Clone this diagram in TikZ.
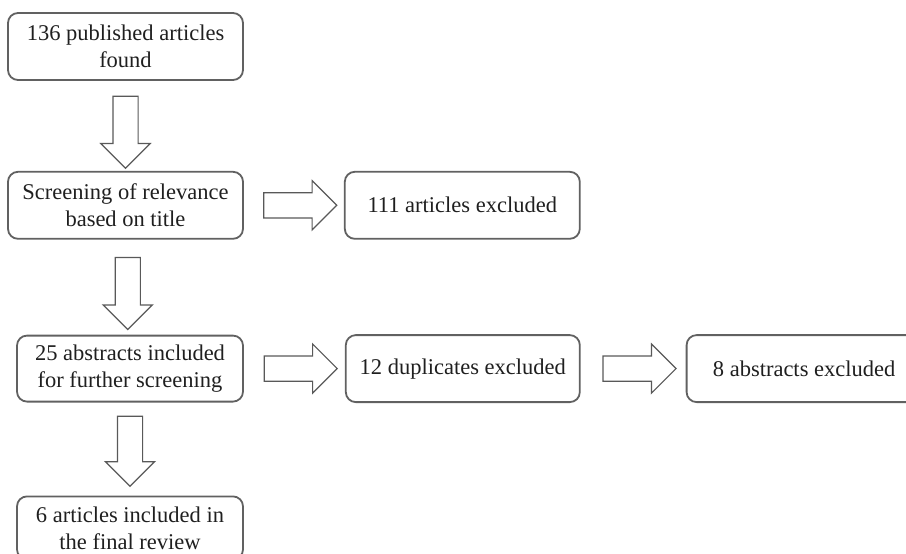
\documentclass[tikz,border=0pt]{standalone}
\usepackage{fontspec}
\setmainfont{Liberation Serif}
\usetikzlibrary{positioning,calc,shapes.arrows}

\begin{document}
\begin{tikzpicture}[
  x=1bp, y=-1bp, font=\fontsize{22.5bp}{27bp}\selectfont, node distance=90bp,
  box/.style={draw=black!62, line width=1.8bp, rounded corners=10bp, align=center,
              text=black!88, minimum width=235bp, minimum height=67bp, inner sep=2bp},
  flow/.style={single arrow, draw=black!65, line width=1.2bp, fill=white,
               inner xsep=0pt, inner ysep=12bp, outer sep=0pt,
               single arrow head extend=12bp, single arrow tip angle=90,
               minimum height=72bp},
]
\clip (0,0) rectangle (906,554);

\node[box] (found) at (125.5,46.5) {136 published articles\\ found};
\node[box, below=90bp of found] (title) {Screening of relevance\\ based on title};
\node[box, right=100bp of title] (excl) {111 articles excluded};
\node[box, minimum width=226bp, minimum height=66bp, below=95bp of title, xshift=4.5bp] (abstr) {25 abstracts included\\ for further screening};
\node[box, minimum width=234bp, right=101bp of abstr] (dupl) {12 duplicates excluded};
\node[box, right=105bp of dupl] (absex) {8 abstracts excluded};
\node[box, minimum width=226bp, minimum height=63bp, below=93bp of abstr] (final) {6 articles included in\\ the final review};

% block arrows
\node[flow, rotate=-90] (d1) at ($(found.south)!.5!(title.north)$) {};
\node[flow, rotate=-90] (d2) at ($(title.south)!.5!(abstr.north)$) {};
\node[flow, rotate=-90, minimum height=70bp, xshift=-4bp] (d3) at ($(abstr.south)!.5!(final.north)$) {};
\node[flow, minimum height=73bp] (r1) at ($(title.east)!.5!(excl.west)$) {};
\node[flow, minimum height=73bp] (r2) at ($(abstr.east)!.5!(dupl.west)$) {};
\node[flow, minimum height=73bp] (r3) at ($(dupl.east)!.5!(absex.west)$) {};
\end{tikzpicture}
\end{document}
